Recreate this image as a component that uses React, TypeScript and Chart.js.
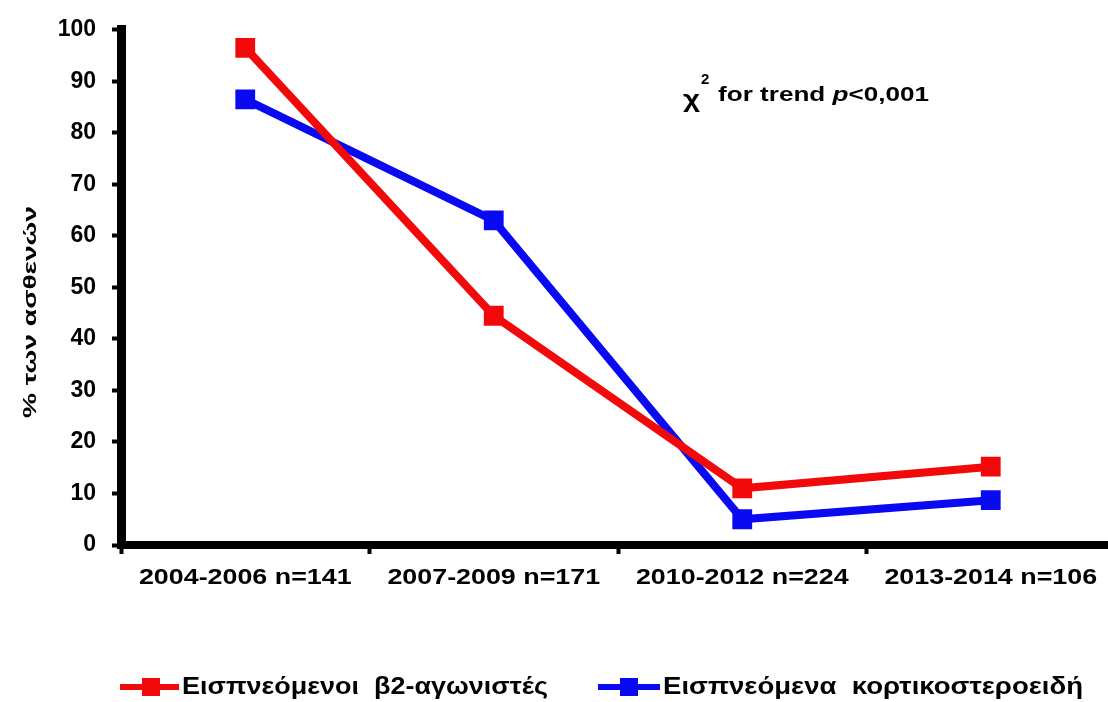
import React, { useEffect, useRef } from "react";
import { Chart, registerables } from "chart.js";

Chart.register(...registerables);

const categories = ["2004-2006 n=141", "2007-2009 n=171", "2010-2012 n=224", "2013-2014 n=106"];
const beta2Values = [96.5, 44.5, 11, 15.2];
const steroidValues = [86.5, 63, 5, 8.7];
const seriesNames = ["Εισπνεόμενοι  β2-αγωνιστές", "Εισπνεόμενα  κορτικοστεροειδή"];
const yTitle = "% των ασθενών";
const RED = "#f20a0a";
const BLUE = "#0a0af2";
const FONT = "'Liberation Sans', Arial, Helvetica, sans-serif";

function fitText(ctx: CanvasRenderingContext2D, text: string, x: number, y: number, width: number) {
  const w = ctx.measureText(text).width;
  ctx.save();
  ctx.translate(x, y);
  ctx.scale(width / w, 1);
  ctx.fillText(text, 0, 0);
  ctx.restore();
}

const textPlugin = {
  id: "customText",
  afterDraw(chart: any) {
    const ctx: CanvasRenderingContext2D = chart.ctx;
    const xs = chart.scales.x;
    ctx.save();
    ctx.fillStyle = "#000";
    // x labels
    ctx.font = `bold 22px ${FONT}`;
    ctx.textBaseline = "middle";
    ctx.textAlign = "left";
    categories.forEach((c, i) => {
      const cx = xs.getPixelForValue(i);
      const w = ctx.measureText(c).width * 1.22;
      fitText(ctx, c, cx - w / 2, 578, w);
    });
    // y title
    ctx.save();
    ctx.translate(31, 312);
    ctx.rotate(-Math.PI / 2);
    ctx.font = `bold 19px ${FONT}`;
    ctx.textBaseline = "middle";
    const tw = 212;
    fitText(ctx, yTitle, -tw / 2, 0, tw);
    ctx.restore();
    // annotation
    ctx.textBaseline = "alphabetic";
    ctx.font = `bold 24px ${FONT}`;
    fitText(ctx, "χ", 683, 107, 17);
    ctx.font = `bold 15px ${FONT}`;
    ctx.fillText("2", 701, 84);
    const parts = [
      { t: "for trend ", f: `bold 21px ${FONT}` },
      { t: "p", f: `italic bold 21px ${FONT}` },
      { t: "<0,001", f: `bold 21px ${FONT}` },
    ];
    let total = 0;
    parts.forEach((p) => {
      ctx.font = p.f;
      total += ctx.measureText(p.t).width;
    });
    const s = 211 / total;
    ctx.save();
    ctx.translate(718, 101);
    ctx.scale(s, 1);
    let px = 0;
    parts.forEach((p) => {
      ctx.font = p.f;
      ctx.fillText(p.t, px, 0);
      px += ctx.measureText(p.t).width;
    });
    ctx.restore();
    // legend
    const legend = [
      { color: RED, x0: 120, x1: 179, sq: 151, tx: 182, tw: 366, name: seriesNames[0] },
      { color: BLUE, x0: 598, x1: 660, sq: 629, tx: 663, tw: 420, name: seriesNames[1] },
    ];
    const ly = 687;
    legend.forEach((l) => {
      ctx.fillStyle = l.color;
      ctx.fillRect(l.x0, ly - 3, l.x1 - l.x0, 6);
      ctx.fillRect(l.sq - 9, ly - 9, 18, 18);
      ctx.fillStyle = "#000";
      ctx.font = `bold 23px ${FONT}`;
      ctx.textBaseline = "middle";
      fitText(ctx, l.name, l.tx, ly + 1, l.tw);
    });
    ctx.restore();
  },
};

export default function App() {
  const ref = useRef<HTMLCanvasElement>(null);
  useEffect(() => {
    document.body.style.margin = "0";
    const canvas = ref.current!;
    const chart = new Chart(canvas, {
      type: "line",
      data: {
        labels: categories,
        datasets: [
          {
            label: seriesNames[0],
            data: beta2Values,
            borderColor: RED,
            backgroundColor: RED,
            borderWidth: 8,
            pointStyle: "rect",
            pointRadius: 14,
            pointHoverRadius: 14,
            pointBorderWidth: 0,
            tension: 0,
          },
          {
            label: seriesNames[1],
            data: steroidValues,
            borderColor: BLUE,
            backgroundColor: BLUE,
            borderWidth: 8,
            pointStyle: "rect",
            pointRadius: 14,
            pointHoverRadius: 14,
            pointBorderWidth: 0,
            tension: 0,
          },
        ],
      },
      options: {
        responsive: false,
        animation: false,
        layout: { padding: { top: 26, right: 0, bottom: 0, left: 0 } },
        plugins: { legend: { display: false }, tooltip: { enabled: false } },
        scales: {
          x: {
            type: "category",
            offset: true,
            border: { display: true, color: "#000", width: 8 },
            grid: {
              offset: true,
              drawOnChartArea: false,
              drawTicks: true,
              tickLength: 9,
              tickWidth: 4,
              tickColor: "#000",
            },
            ticks: { display: false },
            afterFit: (scale: any) => {
              scale.height = 702 - 545;
            },
          },
          y: {
            min: 0,
            max: 100,
            border: { display: true, color: "#000", width: 9 },
            grid: {
              drawOnChartArea: false,
              drawTicks: true,
              tickLength: 9,
              tickWidth: 4,
              tickColor: "#000",
            },
            ticks: {
              stepSize: 10,
              color: "#000",
              padding: 16,
              font: { family: FONT, size: 23, weight: "bold" },
            },
            afterFit: (scale: any) => {
              scale.width = 121;
            },
          },
        },
      },
      plugins: [textPlugin],
    } as any);
    return () => chart.destroy();
  }, []);
  return (
    <div style={{ width: 1108, height: 702, overflow: "hidden" }}>
      <canvas ref={ref} width={1129} height={702} style={{ display: "block" }} />
    </div>
  );
}
